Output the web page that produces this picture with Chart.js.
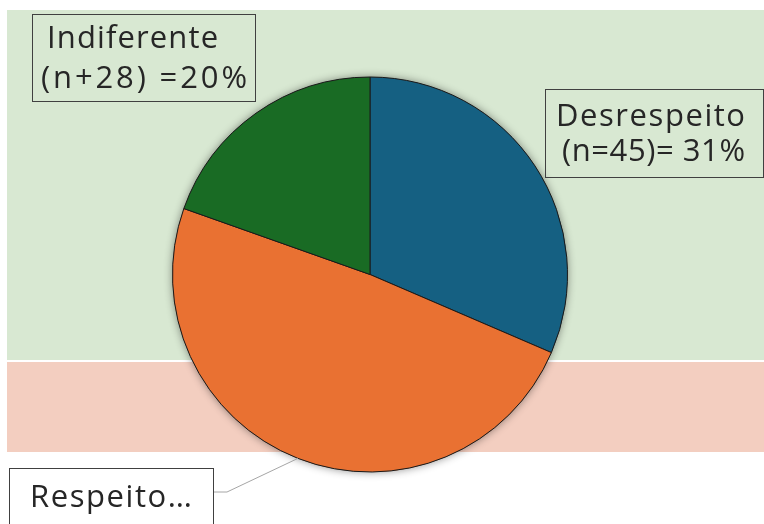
<!DOCTYPE html>
<html>
<head>
<meta charset="utf-8">
<script src="https://cdn.jsdelivr.net/npm/chart.js@4.4.1/dist/chart.umd.min.js"></script>
<style>
  html, body { margin: 0; padding: 0; background: #ffffff; }
  #wrap { width: 764px; height: 524px; }
</style>
</head>
<body>
<div id="wrap"><canvas id="c" width="764" height="524"></canvas></div>
<script>
// ---- data ----
const categories = ['Desrespeito', 'Respeito', 'Indiferente'];
const counts = [45, 70, 28];
const labelLines = [
  ['Desrespeito', '(n=45)= 31%'],
  ['Respeito…'],
  ['Indiferente', '(n+28) =20%']
];
const sliceColors = ['#156082', '#E97132', '#196B24'];

// ---- decorative layout (not data) ----
const bands = [
  { x: 7, y: 10, w: 757, h: 350, color: '#D8E8D2' },
  { x: 7, y: 362, w: 757, h: 90, color: '#F3CEC0' }
];
// label boxes: box rect + per-line text positions (left x, baseline y, target width)
const labelBoxes = [
  { box: [545, 89, 218, 88], fill: null, lines: [[556, 126, 189], [562, 161, 183]], leader: false },
  { box: [9, 468, 204, 70], fill: '#ffffff', lines: [[30, 507, 162]], leader: true },
  { box: [32, 14, 223, 87], fill: null, lines: [[47, 48, 171], [41, 88, 206]], leader: false }
];

const bgPlugin = {
  id: 'bg',
  beforeDraw(chart) {
    const ctx = chart.ctx;
    ctx.save();
    ctx.fillStyle = '#ffffff';
    ctx.fillRect(0, 0, chart.width, chart.height);
    bands.forEach(b => { ctx.fillStyle = b.color; ctx.fillRect(b.x, b.y, b.w, b.h); });
    ctx.restore();
  },
  beforeDatasetsDraw(chart) {
    const arc = chart.getDatasetMeta(0).data[0];
    if (!arc) return;
    const ctx = chart.ctx;
    ctx.save();
    ctx.shadowColor = 'rgba(0,0,0,0.45)';
    ctx.shadowBlur = 9;
    ctx.fillStyle = '#666';
    ctx.beginPath();
    ctx.arc(arc.x, arc.y, arc.outerRadius, 0, Math.PI * 2);
    ctx.fill();
    ctx.restore();
  },
  afterDatasetsDraw(chart) {
    const ctx = chart.ctx;
    const meta = chart.getDatasetMeta(0);
    ctx.save();
    labelBoxes.forEach((lb, i) => {
      const [bx, by, bw, bh] = lb.box;
      if (lb.leader) {
        const el = meta.data[i];
        const mid = (el.startAngle + el.endAngle) / 2;
        const ex = el.x + Math.cos(mid) * el.outerRadius;
        const ey = el.y + Math.sin(mid) * el.outerRadius;
        const sy = by + 24;
        ctx.strokeStyle = '#A6A6A6';
        ctx.lineWidth = 1;
        ctx.beginPath();
        ctx.moveTo(bx + bw, sy);
        ctx.lineTo(bx + bw + 14, sy);
        ctx.lineTo(ex, ey);
        ctx.stroke();
      }
      if (lb.fill) { ctx.fillStyle = lb.fill; ctx.fillRect(bx, by, bw, bh); }
      ctx.strokeStyle = '#404040';
      ctx.lineWidth = 1;
      ctx.strokeRect(bx + 0.5, by + 0.5, bw, bh);
      ctx.fillStyle = '#262626';
      ctx.font = '400 31px "Open Sans"';
      ctx.textAlign = 'left';
      ctx.textBaseline = 'alphabetic';
      labelLines[i].forEach((t, k) => {
        const [tx, ty, tw] = lb.lines[k];
        // spread letters so the line spans the same width as in the reference
        let sp = 0;
        try {
          ctx.letterSpacing = '0px';
          const w0 = ctx.measureText(t).width;
          sp = Math.max(0, (tw - w0) / Math.max(1, t.length - 1));
          ctx.letterSpacing = sp.toFixed(2) + 'px';
        } catch (e) {}
        ctx.fillText(t, tx, ty);
      });
      try { ctx.letterSpacing = '0px'; } catch (e) {}
    });
    ctx.restore();
  }
};

new Chart(document.getElementById('c'), {
  type: 'pie',
  data: {
    labels: categories,
    datasets: [{
      data: counts,
      backgroundColor: sliceColors,
      borderColor: '#1a1a1a',
      borderWidth: 1
    }]
  },
  options: {
    responsive: false,
    animation: false,
    devicePixelRatio: 1,
    layout: { padding: { left: 172, right: 196, top: 76, bottom: 51 } },
    plugins: {
      legend: { display: false },
      tooltip: { enabled: false }
    }
  },
  plugins: [bgPlugin]
});
</script>
</body>
</html>
